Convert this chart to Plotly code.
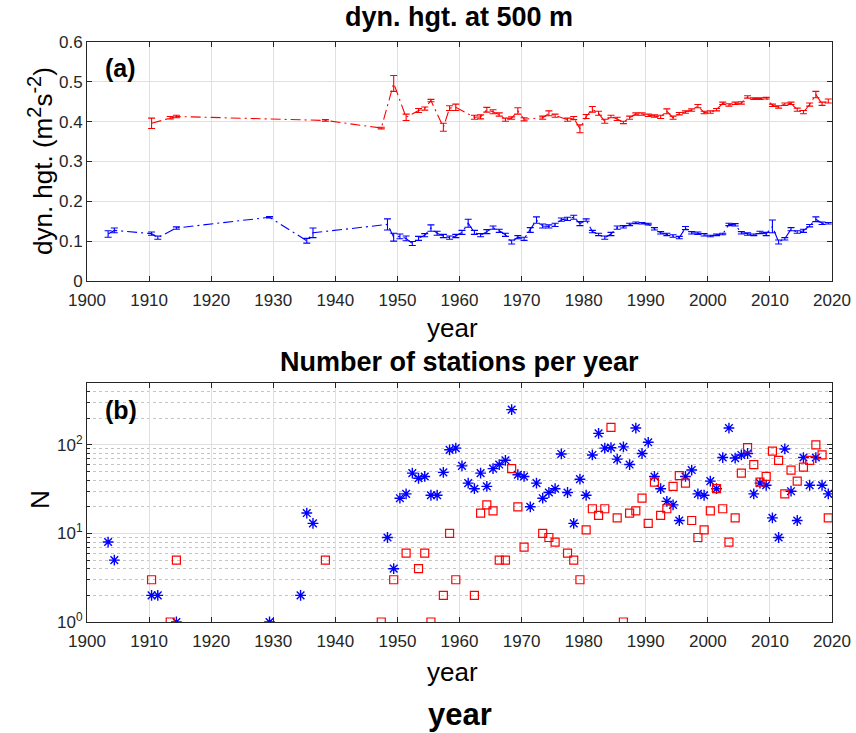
import plotly.graph_objects as go

# ---------------- data: panel (a) dynamic height ----------------
blue_years = [1903, 1904, 1910, 1911, 1914, 1929, 1935, 1936, 1948, 1949,
              1950, 1951, 1952, 1953, 1954, 1955, 1956, 1957, 1958, 1959,
              1960, 1961, 1962, 1963, 1964, 1965, 1966, 1967, 1968, 1969,
              1970, 1971, 1972, 1973, 1974, 1975, 1976, 1977, 1978, 1979,
              1980, 1981, 1982, 1983, 1984, 1985, 1986, 1987, 1988, 1989,
              1990, 1991, 1992, 1993, 1994, 1995, 1996, 1997, 1998, 1999,
              2000, 2001, 2002, 2003, 2004, 2005, 2006, 2007, 2008, 2009,
              2010, 2011, 2012, 2013, 2014, 2015, 2016, 2017, 2018, 2019]
blue_hgt = [0.118, 0.127, 0.119, 0.109, 0.133, 0.160, 0.101, 0.121, 0.142, 0.110,
            0.112, 0.107, 0.094, 0.107, 0.115, 0.133, 0.120, 0.113, 0.109, 0.113,
            0.122, 0.145, 0.122, 0.115, 0.124, 0.134, 0.126, 0.116, 0.098, 0.110,
            0.106, 0.128, 0.153, 0.138, 0.137, 0.141, 0.154, 0.156, 0.160, 0.144,
            0.153, 0.124, 0.117, 0.109, 0.118, 0.134, 0.136, 0.142, 0.146, 0.145,
            0.143, 0.131, 0.121, 0.117, 0.113, 0.109, 0.133, 0.121, 0.120, 0.116,
            0.113, 0.116, 0.118, 0.142, 0.141, 0.121, 0.118, 0.116, 0.122, 0.118,
            0.137, 0.098, 0.106, 0.130, 0.123, 0.126, 0.139, 0.155, 0.145, 0.145]
blue_err = [0.008, 0.006, 0.004, 0.004, 0.003, 0.002, 0.006, 0.012, 0.014, 0.010,
            0.006, 0.006, 0.005, 0.005, 0.004, 0.008, 0.005, 0.004, 0.004, 0.004,
            0.005, 0.010, 0.005, 0.004, 0.005, 0.004, 0.004, 0.004, 0.005, 0.004,
            0.004, 0.006, 0.008, 0.005, 0.004, 0.004, 0.004, 0.004, 0.005, 0.005,
            0.003, 0.003, 0.003, 0.004, 0.004, 0.004, 0.003, 0.003, 0.002, 0.002,
            0.002, 0.003, 0.003, 0.003, 0.003, 0.003, 0.004, 0.003, 0.003, 0.003,
            0.002, 0.002, 0.002, 0.003, 0.003, 0.003, 0.003, 0.002, 0.003, 0.004,
            0.016, 0.005, 0.003, 0.004, 0.003, 0.004, 0.003, 0.006, 0.003, 0.002]

red_years = [1910, 1913, 1914, 1938, 1947, 1949, 1951, 1953, 1954, 1955,
             1957, 1958, 1959, 1962, 1963, 1964, 1965, 1966, 1967, 1968,
             1969, 1970, 1973, 1974, 1975, 1977, 1978, 1979, 1980, 1981,
             1982, 1983, 1984, 1985, 1986, 1987, 1988, 1989, 1990, 1991,
             1992, 1993, 1994, 1995, 1996, 1997, 1998, 1999, 2000, 2001,
             2002, 2003, 2004, 2005, 2006, 2007, 2008, 2009, 2010, 2011,
             2012, 2013, 2014, 2015, 2016, 2017, 2018, 2019]
red_hgt = [0.396, 0.410, 0.413, 0.403, 0.384, 0.496, 0.411, 0.428, 0.433, 0.453,
           0.386, 0.434, 0.436, 0.411, 0.412, 0.430, 0.425, 0.418, 0.405, 0.409,
           0.427, 0.406, 0.410, 0.421, 0.415, 0.405, 0.409, 0.382, 0.413, 0.431,
           0.421, 0.401, 0.413, 0.407, 0.398, 0.410, 0.419, 0.419, 0.416, 0.414,
           0.412, 0.426, 0.410, 0.420, 0.424, 0.429, 0.439, 0.423, 0.424, 0.430,
           0.446, 0.442, 0.446, 0.447, 0.462, 0.458, 0.458, 0.459, 0.441, 0.437,
           0.444, 0.446, 0.430, 0.424, 0.443, 0.468, 0.445, 0.452]
red_err = [0.013, 0.003, 0.003, 0.002, 0.002, 0.020, 0.008, 0.005, 0.004, 0.003,
           0.010, 0.006, 0.008, 0.005, 0.005, 0.006, 0.005, 0.004, 0.004, 0.003,
           0.008, 0.004, 0.004, 0.006, 0.004, 0.004, 0.004, 0.010, 0.005, 0.007,
           0.005, 0.005, 0.003, 0.004, 0.003, 0.004, 0.003, 0.003, 0.003, 0.003,
           0.004, 0.006, 0.004, 0.003, 0.003, 0.003, 0.004, 0.003, 0.003, 0.003,
           0.003, 0.003, 0.003, 0.003, 0.003, 0.002, 0.002, 0.002, 0.003, 0.003,
           0.003, 0.003, 0.004, 0.004, 0.004, 0.008, 0.004, 0.005]

# ---------------- data: panel (b) number of stations ----------------
blue_n_years = [1903, 1904, 1910, 1911, 1914, 1929, 1934, 1935, 1936, 1948,
                1949, 1950, 1951, 1952, 1953, 1954, 1955, 1956, 1957, 1958,
                1959, 1960, 1961, 1962, 1963, 1964, 1965, 1966, 1967, 1968,
                1969, 1970, 1971, 1972, 1973, 1974, 1975, 1976, 1977, 1978,
                1979, 1980, 1981, 1982, 1983, 1984, 1985, 1986, 1987, 1988,
                1989, 1990, 1991, 1992, 1993, 1994, 1995, 1996, 1997, 1998,
                1999, 2000, 2001, 2002, 2003, 2004, 2005, 2006, 2007, 2008,
                2009, 2010, 2011, 2012, 2013, 2014, 2015, 2016, 2017, 2018, 2019]
blue_n = [8, 5, 2, 2, 1, 1, 2, 17, 13, 9,
          4, 25, 28, 48, 42, 44, 27, 27, 49, 88,
          92, 58, 37, 32, 48, 34, 54, 60, 67, 250,
          46, 44, 20, 37, 25, 29, 32, 79, 29, 13,
          41, 27, 77, 135, 92, 93, 69, 95, 60, 155,
          80, 107, 44, 32, 23, 21, 14, 44, 52, 28,
          27, 39, 32, 72, 155, 71, 77, 80, 28, 37,
          35, 15, 9, 90, 30, 14, 72, 35, 72, 35, 28]

red_n_years = [1910, 1913, 1914, 1938, 1947, 1949, 1951, 1953, 1954, 1955,
               1957, 1958, 1959, 1962, 1963, 1964, 1965, 1966, 1967, 1968,
               1969, 1970, 1973, 1974, 1975, 1977, 1978, 1979, 1980, 1981,
               1982, 1983, 1984, 1985, 1986, 1987, 1988, 1989, 1990, 1991,
               1992, 1993, 1994, 1995, 1996, 1997, 1998, 1999, 2000, 2001,
               2002, 2003, 2004, 2005, 2006, 2007, 2008, 2009, 2010, 2011,
               2012, 2013, 2014, 2015, 2016, 2017, 2018, 2019]
red_n = [3, 1, 5, 5, 1, 3, 6, 4, 6, 1,
         2, 10, 3, 2, 17, 21, 18, 5, 5, 54,
         20, 7, 10, 9, 8, 6, 5, 3, 11, 19,
         16, 19, 158, 15, 1, 17, 18, 25, 13, 38,
         16, 19, 34, 45, 37, 14, 9, 11, 18, 32,
         19, 8, 15, 48, 93, 60, 38, 44, 85, 67,
         28, 52, 39, 56, 67, 100, 77, 15]

year_ticks = [1900, 1910, 1920, 1930, 1940, 1950, 1960, 1970, 1980, 1990, 2000, 2010, 2020]
hgt_ticks = [0, 0.1, 0.2, 0.3, 0.4, 0.5, 0.6]
hgt_tick_labels = ["0", "0.1", "0.2", "0.3", "0.4", "0.5", "0.6"]
n_ticks = [1, 10, 100]
n_tick_labels = ["10<sup>0</sup>", "10<sup>1</sup>", "10<sup>2</sup>"]

MID = 0.4  # samples plotted within the year

RED = "#ff0000"
BLUE = "#0000ff"
W, H = 856, 733
FONT = "Arial, Liberation Sans, Helvetica, sans-serif"


def px_x(x):
    return x / W


def px_y(y):
    return 1 - y / H


fig = go.Figure()

for yrs, vals, errs, col in [(red_years, red_hgt, red_err, RED),
                             (blue_years, blue_hgt, blue_err, BLUE)]:
    fig.add_trace(go.Scatter(
        x=[v + MID for v in yrs], y=vals, mode="lines",
        line=dict(color=col, width=1.1, dash="10px,4px,2px,4px"),
        error_y=dict(type="data", array=errs, visible=True, color=col,
                     thickness=1.1, width=3.5),
        xaxis="x", yaxis="y", showlegend=False, hoverinfo="skip"))

fig.add_trace(go.Scatter(
    x=[v + MID for v in blue_n_years], y=blue_n, mode="markers",
    marker=dict(symbol="asterisk-open", size=9, color=BLUE,
                line=dict(color=BLUE, width=1.4)),
    xaxis="x2", yaxis="y2", showlegend=False, hoverinfo="skip"))
fig.add_trace(go.Scatter(
    x=[v + MID for v in red_n_years], y=red_n, mode="markers",
    marker=dict(symbol="square-open", size=8, color=RED,
                line=dict(color=RED, width=1.2)),
    xaxis="x2", yaxis="y2", showlegend=False, hoverinfo="skip"))

xdom = [px_x(87), px_x(832)]
axis_common = dict(showline=True, mirror="allticks", linecolor="#262626", linewidth=1,
                   ticks="inside", ticklen=5, tickcolor="#262626",
                   showgrid=True, gridcolor="#e0e0e0", gridwidth=1,
                   zeroline=False, tickfont=dict(family=FONT, size=17, color="#262626"),
                   automargin=False)

fig.update_layout(
    width=W, height=H,
    margin=dict(l=0, r=0, t=0, b=0),
    paper_bgcolor="white", plot_bgcolor="white",
    hovermode=False,
    font=dict(family=FONT, color="#000000"),
    xaxis=dict(domain=xdom, range=[1900, 2020], tickvals=year_ticks,
               anchor="y", ticklabelstandoff=4, **axis_common),
    yaxis=dict(domain=[px_y(281), px_y(42)], range=[0, 0.6], tickvals=hgt_ticks,
               ticktext=hgt_tick_labels, anchor="x", **axis_common),
    xaxis2=dict(domain=xdom, range=[1900, 2020], tickvals=year_ticks,
                anchor="y2", ticklabelstandoff=4, **axis_common),
    yaxis2=dict(domain=[px_y(622), px_y(383)], type="log", range=[0, 2.699],
                tickvals=n_ticks, ticktext=n_tick_labels, anchor="x2",
                minor=dict(tickvals=[m * d for d in (1, 10, 100) for m in range(2, 10)],
                           showgrid=True, gridcolor="#c4c4c4", griddash="dot",
                           ticks="inside", ticklen=3, tickcolor="#262626"),
                **axis_common),
)

ann = []
def text(x, y, s, size, bold=False, angle=0, xanchor="center", yanchor="middle"):
    ann.append(dict(x=px_x(x), y=px_y(y), xref="paper", yref="paper", text=s,
                    showarrow=False, textangle=angle, xanchor=xanchor, yanchor=yanchor,
                    font=dict(family=FONT, size=size, color="#000000",
                              weight="bold" if bold else "normal")))

sup = lambda s: "<sup><span style='font-size:20px'>" + s + "</span></sup>"
text(459, 17, "dyn. hgt. at 500 m", 27, bold=True)
text(459, 362, "Number of stations per year", 27, bold=True)
text(103, 68, "(a)", 25, bold=True, xanchor="left")
text(103, 410, "(b)", 25, bold=True, xanchor="left")
text(40, 161, "dyn. hgt. (m" + sup("2") + "s" + sup("-2") + ")", 26, angle=-90)
text(40, 500, "N", 26, angle=-90)
text(452, 328, "year", 26)
text(452, 672, "year", 26)
text(460, 714, "year", 31, bold=True)
fig.update_layout(annotations=ann)

fig.write_html("out.html", config={"displayModeBar": False},
               post_script="document.body.style.margin='0';document.body.style.overflow='hidden';")
